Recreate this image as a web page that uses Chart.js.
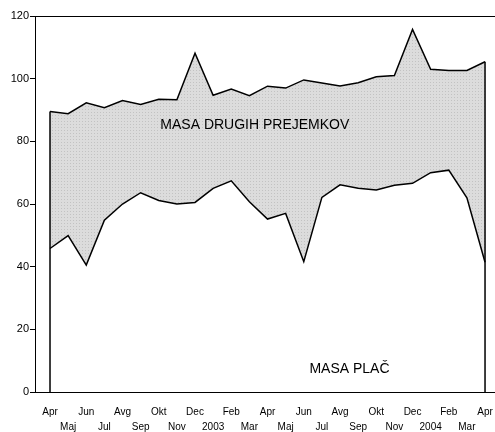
<!DOCTYPE html>
<html lang="sl">
<head>
  <meta charset="UTF-8" />
  <title>Masa plač in drugih prejemkov</title>
  <script src="https://cdn.jsdelivr.net/npm/chart.js"></script>
  <style>
    body { margin: 0; background: #fff; }
    #wrap { width: 495px; height: 432px; }
  </style>
</head>
<body>
  <div id="wrap"><canvas id="chart"></canvas></div>

  <script>
    // months Apr 2002 .. Apr 2004
    const months = [
      "Apr", "Maj", "Jun", "Jul", "Avg", "Sep", "Okt", "Nov", "Dec", "2003", "Feb", "Mar",
      "Apr", "Maj", "Jun", "Jul", "Avg", "Sep", "Okt", "Nov", "Dec", "2004", "Feb", "Mar", "Apr"
    ];

    // masa plač (lower line)
    const masaPlac = [
      45.8, 49.9, 40.5, 54.8, 60.0, 63.6, 61.1, 60.0, 60.5, 65.0, 67.4, 60.7,
      55.2, 57.0, 41.6, 62.1, 66.1, 65.0, 64.5, 66.0, 66.6, 70.0, 70.8, 62.0, 41.4
    ];

    // plače + drugi prejemki (upper line)
    const skupaj = [
      89.5, 88.8, 92.3, 90.7, 93.0, 91.8, 93.4, 93.3, 108.1, 94.7, 96.7, 94.6,
      97.6, 97.0, 99.6, 98.6, 97.7, 98.7, 100.6, 101.0, 115.7, 103.0, 102.6, 102.6, 105.4
    ];

    const yTicks = [0, 20, 40, 60, 80, 100, 120];

    // dotted grey fill
    function dotPattern() {
      const c = document.createElement("canvas");
      c.width = 3; c.height = 3;
      const g = c.getContext("2d");
      g.fillStyle = "#dcdcdc";
      g.fillRect(0, 0, 3, 3);
      g.fillStyle = "#c2c2c2";
      g.fillRect(1, 1, 1, 1);
      return g.createPattern(c, "repeat");
    }

    const labelsPlugin = {
      id: "areaLabels",
      afterDatasetsDraw(chart) {
        const { ctx, chartArea, scales: { x, y } } = chart;
        ctx.save();
        ctx.strokeStyle = "#000";
        ctx.lineWidth = 1.5;
        // vertical edges of the areas
        const first = 0, last = skupaj.length - 1;
        ctx.beginPath();
        ctx.moveTo(x.getPixelForValue(first), y.getPixelForValue(skupaj[first]));
        ctx.lineTo(x.getPixelForValue(first), y.getPixelForValue(0));
        ctx.moveTo(x.getPixelForValue(last), y.getPixelForValue(skupaj[last]));
        ctx.lineTo(x.getPixelForValue(last), y.getPixelForValue(0));
        ctx.stroke();
        // top frame line
        ctx.lineWidth = 1;
        ctx.beginPath();
        ctx.moveTo(chartArea.left, chartArea.top + 0.5);
        ctx.lineTo(chartArea.right, chartArea.top + 0.5);
        ctx.stroke();

        ctx.fillStyle = "#000";
        ctx.font = "14px 'Liberation Sans', Arial, sans-serif";
        ctx.textAlign = "center";
        ctx.textBaseline = "middle";
        ctx.fillText("MASA DRUGIH PREJEMKOV", x.getPixelForValue(11.3), y.getPixelForValue(85.2));
        ctx.fillText("MASA PLAČ", x.getPixelForValue(16.52), y.getPixelForValue(7.3));
        ctx.restore();
      }
    };

    const ctx = document.getElementById("chart").getContext("2d");
    new Chart(ctx, {
      type: "line",
      data: {
        labels: months,
        datasets: [
          {
            label: "MASA PLAČ",
            data: masaPlac.map((v, i) => ({ x: i, y: v })),
            borderColor: "#000",
            borderWidth: 1.5,
            backgroundColor: "#fff",
            fill: "origin",
            pointRadius: 0,
            tension: 0
          },
          {
            label: "MASA DRUGIH PREJEMKOV",
            data: skupaj.map((v, i) => ({ x: i, y: v })),
            borderColor: "#000",
            borderWidth: 1.5,
            backgroundColor: dotPattern(),
            fill: "-1",
            pointRadius: 0,
            tension: 0
          }
        ]
      },
      options: {
        responsive: true,
        maintainAspectRatio: false,
        animation: false,
        layout: { padding: { top: 16, right: 0, left: 0, bottom: 0 } },
        plugins: {
          legend: { display: false },
          tooltip: { enabled: false }
        },
        scales: {
          x: {
            type: "linear",
            min: -0.828,
            max: 24.55,
            afterBuildTicks: s => { s.ticks = months.map((m, i) => ({ value: i })); },
            afterFit: s => { s.height = 40; s.paddingRight = 0; s.paddingLeft = 0; },
            grid: { display: false, drawTicks: false },
            border: { color: "#000", width: 1 },
            ticks: {
              autoSkip: false,
              maxRotation: 0,
              padding: 13,
              color: "#000",
              font: { family: "'Liberation Sans', Arial, sans-serif", size: 10, lineHeight: 1.5 },
              callback: v => (v % 2 === 0 ? [months[v], ""] : ["", months[v]])
            }
          },
          y: {
            min: 0,
            max: 120,
            afterBuildTicks: s => { s.ticks = yTicks.map(v => ({ value: v })); },
            afterFit: s => { s.width = 35; },
            grid: { drawOnChartArea: false, drawTicks: true, tickLength: 5, color: "#000" },
            border: { color: "#000", width: 1 },
            ticks: {
              padding: 1,
              color: "#000",
              font: { family: "'Liberation Sans', Arial, sans-serif", size: 11 }
            }
          }
        }
      },
      plugins: [labelsPlugin]
    });
  </script>
</body>
</html>
